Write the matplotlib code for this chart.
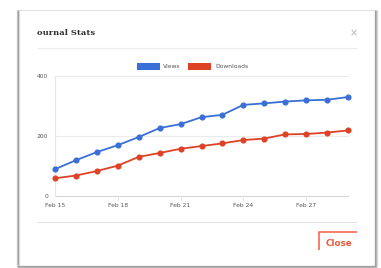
import matplotlib
matplotlib.use("Agg")
import matplotlib.pyplot as plt
from matplotlib.patches import Rectangle
from matplotlib.lines import Line2D

days = ["Feb 15", "Feb 16", "Feb 17", "Feb 18", "Feb 19", "Feb 20", "Feb 21", "Feb 22",
        "Feb 23", "Feb 24", "Feb 25", "Feb 26", "Feb 27", "Feb 28", "Feb 29"]
views = [89, 119, 146, 169, 196, 226, 239, 262, 270, 303, 308, 314, 318, 320, 329]
downloads = [59, 68, 83, 101, 130, 143, 157, 166, 175, 186, 191, 205, 206, 211, 218]
y_ticks = [0, 200, 400]
x_tick_labels = ["Feb 15", "Feb 18", "Feb 21", "Feb 24", "Feb 27"]

W, H = 381, 268
fig = plt.figure(figsize=(W / 100, H / 100), dpi=100)
fig.patch.set_facecolor("white")

def fx(x):
    return x / W

def fy(y):
    return 1 - y / H

def fline(xs, ys, color, lw, z=-1):
    fig.lines.append(Line2D([fx(v) for v in xs], [fy(v) for v in ys], transform=fig.transFigure,
                            color=color, linewidth=lw, zorder=z, solid_capstyle="butt"))

# dialog box with soft shadow
L, T, R, B = 18, 10, 374, 265
fig.patches.append(Rectangle((fx(L), fy(B)), fx(R - L), (B - T) / H, transform=fig.transFigure,
                             facecolor="white", edgecolor="none", zorder=-3))
fline([L, R], [T, T], "#e2e2e2", 0.8)
for off, col in [(-1.5, "#c4c4c4"), (-0.5, "#9c9c9c"), (0.5, "#d8d8d8")]:
    fline([L + off, L + off], [T, B], col, 0.9)
for off, col in [(0.5, "#9c9c9c"), (1.5, "#b0b0b0"), (2.5, "#d6d6d6")]:
    fline([R + off, R + off], [T, B + 2], col, 0.9)
    fline([L - 1, R + 2], [B + off, B + off], col, 0.9)

# title and close icon
fig.text(fx(37), fy(33), "ournal Stats", fontsize=6, family="DejaVu Serif", fontweight="bold",
         color="#333333", va="center", ha="left")
fig.text(fx(354), fy(33), "×", fontsize=7, fontweight="bold", color="#c4c4c4",
         va="center", ha="center")

# separators
fline([37, 357], [48, 48], "#ececec", 0.8)
fline([37, 357], [222, 222], "#e4e4e4", 0.8)

# Close button
fline([319, 319, 357], [250, 231.5, 231.5], "#f46a4c", 1.2)
fig.text(fx(339), fy(243), "Close", fontsize=6.3, fontweight="bold", color="#ec5a40",
         va="center", ha="center")

# chart
ax = fig.add_axes([fx(55), fy(196), (348 - 55) / W, (196 - 75.7) / H])
ax.set_facecolor("none")
x = list(range(len(days)))
blue = "#3a6fd8"
red = "#de4226"
ax.plot(x, views, color=blue, linewidth=1.3, marker="o", markersize=3.4, zorder=3, clip_on=False)
ax.plot(x, downloads, color=red, linewidth=1.3, marker="o", markersize=3.4, zorder=3, clip_on=False)
ax.set_xlim(0, len(days) - 1)
ax.set_ylim(0, 400)
for s in ax.spines.values():
    s.set_visible(False)
for v in y_ticks:
    ax.axhline(v, color="#ebebeb" if v else "#d6d6d6", linewidth=0.8, zorder=1, clip_on=False)
ax.axvline(0, color="#e6e6e6", linewidth=0.8, zorder=1, clip_on=False)
ax.set_yticks(y_ticks)
ax.set_yticklabels([str(v) for v in y_ticks])
tick_pos = [days.index(d) for d in x_tick_labels]
ax.set_xticks(tick_pos)
ax.set_xticklabels(x_tick_labels)
ax.tick_params(axis="both", length=0, labelsize=4.3, labelcolor="#555555")
ax.tick_params(axis="y", pad=5)
ax.tick_params(axis="x", pad=5)
for p in tick_pos[1:]:
    ax.plot([p, p], [-8, -14], color="#dddddd", linewidth=0.6, clip_on=False)

# legend
lh = fig.add_axes([0, 0, 1, 1], facecolor="none")
lh.set_axis_off()
lh.set_xlim(0, W)
lh.set_ylim(H, 0)
lh.add_patch(Rectangle((137, 63), 23, 7, facecolor=blue, edgecolor="none"))
lh.text(163, 66.5, "Views", fontsize=4.3, color="#555555", va="center", ha="left")
lh.add_patch(Rectangle((188, 63), 23, 7, facecolor=red, edgecolor="none"))
lh.text(215, 66.5, "Downloads", fontsize=4.3, color="#555555", va="center", ha="left")

fig.savefig("out.png", dpi=100, facecolor="white")
